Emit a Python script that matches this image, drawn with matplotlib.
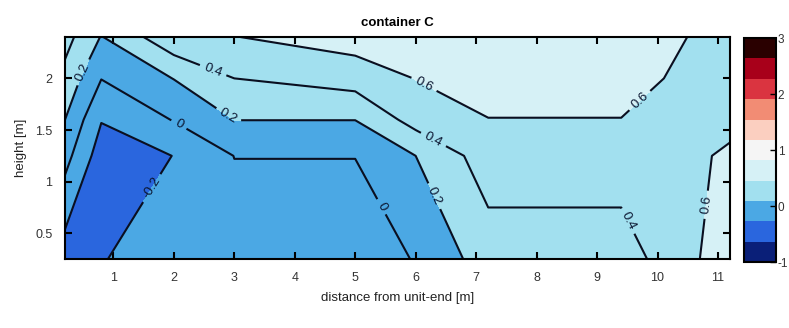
import numpy as np
import matplotlib
matplotlib.use("Agg")
import matplotlib.pyplot as plt
from matplotlib.colors import ListedColormap, Normalize
from matplotlib.cm import ScalarMappable

plt.rcParams['font.family'] = ['Liberation Sans', 'DejaVu Sans']
plt.rcParams['axes.unicode_minus'] = False

# measurement grid (distance along container, height)
dist = [0.2, 0.8, 2.0, 3.0, 5.0, 6.0, 7.2, 9.4, 10.6, 11.2]
height = [0.25, 1.25, 1.6, 2.0, 2.4]

# values per height row (bottom -> top), one entry per distance
row_025 = [-0.31, -0.21, -0.10, -0.10, -0.10, 0.01, 0.30, 0.30, 0.58, 0.70]
row_125 = [0.07, -0.30, -0.197, 0.003, 0.003, 0.20, 0.50, 0.50, 0.55, 0.65]
row_160 = [0.20, -0.19, 0.01, 0.203, 0.203, 0.48, 0.595, 0.595, 0.52, 0.515]
row_200 = [0.34, 0.005, 0.205, 0.40, 0.49, 0.605, 0.70, 0.70, 0.53, 0.50]
row_240 = [0.47, 0.19, 0.55, 0.595, 0.69, 0.75, 0.75, 0.75, 0.585, 0.50]

levels = [-0.4, -0.2, 0.0, 0.2, 0.4, 0.6, 0.8]
xticks = list(range(1, 12))
yticks = [0.5, 1, 1.5, 2]
cbar_ticks = [-1, 0, 1, 2, 3]

# 11-colour diverging map, colour limits -1..3
cmap_colors = ['#0a1f78', '#2a66de', '#4ba8e4', '#a2e0ef', '#d6f1f6',
               '#f5f5f5', '#fbcfc0', '#f28c74', '#da3440', '#a8001a', '#2a0000']
cmap = ListedColormap(cmap_colors)
norm = Normalize(vmin=-1, vmax=3)

X, Y = np.meshgrid(dist, height)
Z = np.array([row_025, row_125, row_160, row_200, row_240])

fig = plt.figure(figsize=(7.89, 3.28), dpi=100)
ax = fig.add_axes([0.0824, 0.21, 0.8429, 0.677])

# matlab style: each band coloured by its lower level
fill_colors = [cmap(norm(lv)) for lv in levels[:-1]]
ax.contourf(X, Y, Z, levels=levels, colors=fill_colors)
cs = ax.contour(X, Y, Z, levels=levels[1:-1], colors='#0a0f20',
                linewidths=1.5, linestyles='solid')

label_pos = [(0.53, 2.05), (2.65, 2.08), (2.94, 1.67), (2.1, 1.57), (1.6, 0.95),
             (6.1, 1.9), (6.25, 1.36), (6.2, 0.83), (5.35, 0.73),
             (9.7, 1.79), (9.45, 0.6), (10.75, 0.78)]
ax.clabel(cs, inline=True, fontsize=9.5, fmt=lambda v: f"{v:g}", manual=label_pos,
          colors='#0a1530')

ax.set_xlim(0.2, 11.2)
ax.set_ylim(0.25, 2.4)
ax.set_xticks(xticks)
ax.set_yticks(yticks)
ax.set_yticklabels(['0.5', '1', '1.5', '2'])
ax.tick_params(direction='in', top=True, right=True, length=5, width=1.5,
               labelsize=9, colors='black', labelcolor='#333333', pad=9)
for s in ax.spines.values():
    s.set_linewidth(1.5)

ax.set_title('container C', fontsize=9.5, fontweight='bold', pad=8)
ax.set_xlabel('distance from unit-end [m]', fontsize=9.5, color='#222222', labelpad=6)
ax.set_ylabel('height [m]', fontsize=9.5, color='#222222', labelpad=6)

cax = fig.add_axes([0.943, 0.201, 0.040, 0.683])
sm = ScalarMappable(norm=norm, cmap=cmap)
cb = fig.colorbar(sm, cax=cax, ticks=cbar_ticks)
cb.outline.set_linewidth(1.5)
cax.tick_params(direction='in', length=4, width=1, labelsize=8.5, labelcolor='#333333', pad=1.5)

fig.savefig('out.png', dpi=100)
